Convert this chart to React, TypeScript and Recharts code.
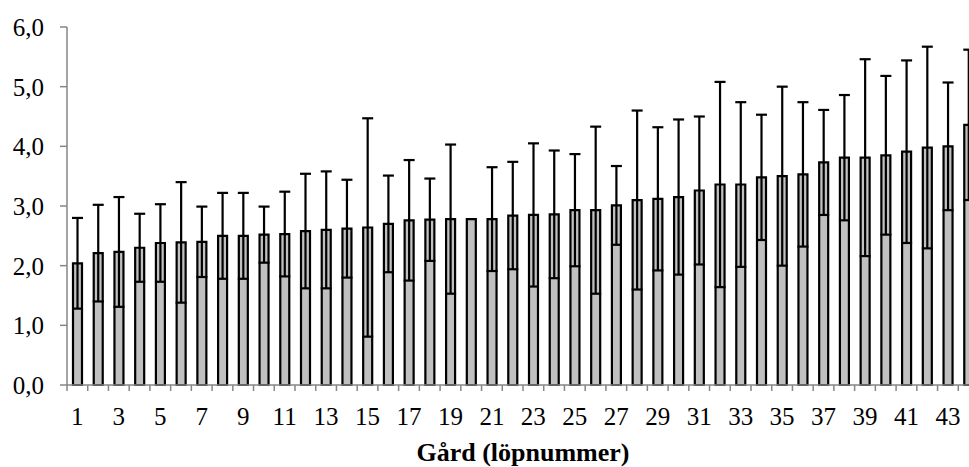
import { Bar, BarChart, ErrorBar, XAxis, YAxis } from "recharts";

const farms = Array.from({ length: 44 }, (_, i) => String(i + 1));

const means = [
  2.04, 2.21, 2.23, 2.3, 2.38, 2.39, 2.4, 2.5, 2.5, 2.52, 2.53, 2.58, 2.6, 2.62, 2.64, 2.7, 2.76, 2.77,
  2.78, 2.78, 2.78, 2.84, 2.85, 2.86, 2.93, 2.93, 3.01, 3.1, 3.12, 3.15, 3.26, 3.36, 3.36, 3.48, 3.5,
  3.53, 3.73, 3.81, 3.81, 3.85, 3.91, 3.98, 4.0, 4.36,
];

const sds = [
  0.76, 0.81, 0.92, 0.57, 0.65, 1.01, 0.59, 0.72, 0.72, 0.47, 0.71, 0.96, 0.98, 0.82, 1.83, 0.81, 1.01,
  0.69, 1.25, 0, 0.87, 0.9, 1.2, 1.07, 0.94, 1.4, 0.66, 1.5, 1.2, 1.3, 1.24, 1.72, 1.38, 1.05, 1.5,
  1.21, 0.88, 1.05, 1.65, 1.33, 1.53, 1.69, 1.07, 1.26,
];

const yTicks = [0, 1, 2, 3, 4, 5, 6];

const FONT = '"Liberation Serif", "Times New Roman", serif';
const AXIS = "#868686";

const data = farms.map((farm, i) => ({ farm, mean: means[i], sd: sds[i] }));

function FarmTick(props: any) {
  const { x, y, payload, index } = props;
  const half = payload?.offset ?? 10.4;
  const axisY = y - 6;
  return (
    <g>
      <line x1={x - half} y1={axisY} x2={x - half} y2={axisY + 6} stroke={AXIS} strokeWidth={1.5} />
      {index === farms.length - 1 && (
        <line x1={x + half} y1={axisY} x2={x + half} y2={axisY + 6} stroke={AXIS} strokeWidth={1.5} />
      )}
      {index % 2 === 0 && (
        <text x={x} y={y} dy={34} textAnchor="middle" fontFamily={FONT} fontSize={25} fill="#000">
          {payload.value}
        </text>
      )}
    </g>
  );
}

export default function App() {
  return (
    <div
      style={{
        position: "fixed",
        left: 0,
        top: 0,
        width: 969,
        height: 467,
        overflow: "hidden",
        background: "#fff",
      }}
    >
      <BarChart width={1000} height={467} data={data} margin={{ top: 27, right: 21, bottom: 0, left: 0 }}>
        <XAxis
          dataKey="farm"
          interval={0}
          height={82}
          tickLine={false}
          tickSize={6}
          tickMargin={0}
          axisLine={{ stroke: AXIS, strokeWidth: 1.5 }}
          tick={<FarmTick />}
          label={{
            value: "Gård (löpnummer)",
            position: "insideBottom",
            offset: 6,
            fontFamily: FONT,
            fontSize: 26,
            fontWeight: 700,
            fill: "#000",
          }}
        />
        <YAxis
          width={67}
          domain={[0, 6]}
          ticks={yTicks}
          interval={0}
          tickSize={7}
          tickMargin={16}
          axisLine={{ stroke: AXIS, strokeWidth: 1.5 }}
          tickLine={{ stroke: AXIS, strokeWidth: 1.5 }}
          tick={{ fontFamily: FONT, fontSize: 25, fill: "#000" }}
          tickFormatter={(v: number) => v.toFixed(1).replace(".", ",")}
        />
        <Bar dataKey="mean" barSize={9} fill="#c0c0c0" stroke="#000" strokeWidth={2.2} isAnimationActive={false}>
          <ErrorBar dataKey="sd" direction="y" width={5.5} stroke="#000" strokeWidth={2.2} isAnimationActive={false} />
        </Bar>
      </BarChart>
    </div>
  );
}
